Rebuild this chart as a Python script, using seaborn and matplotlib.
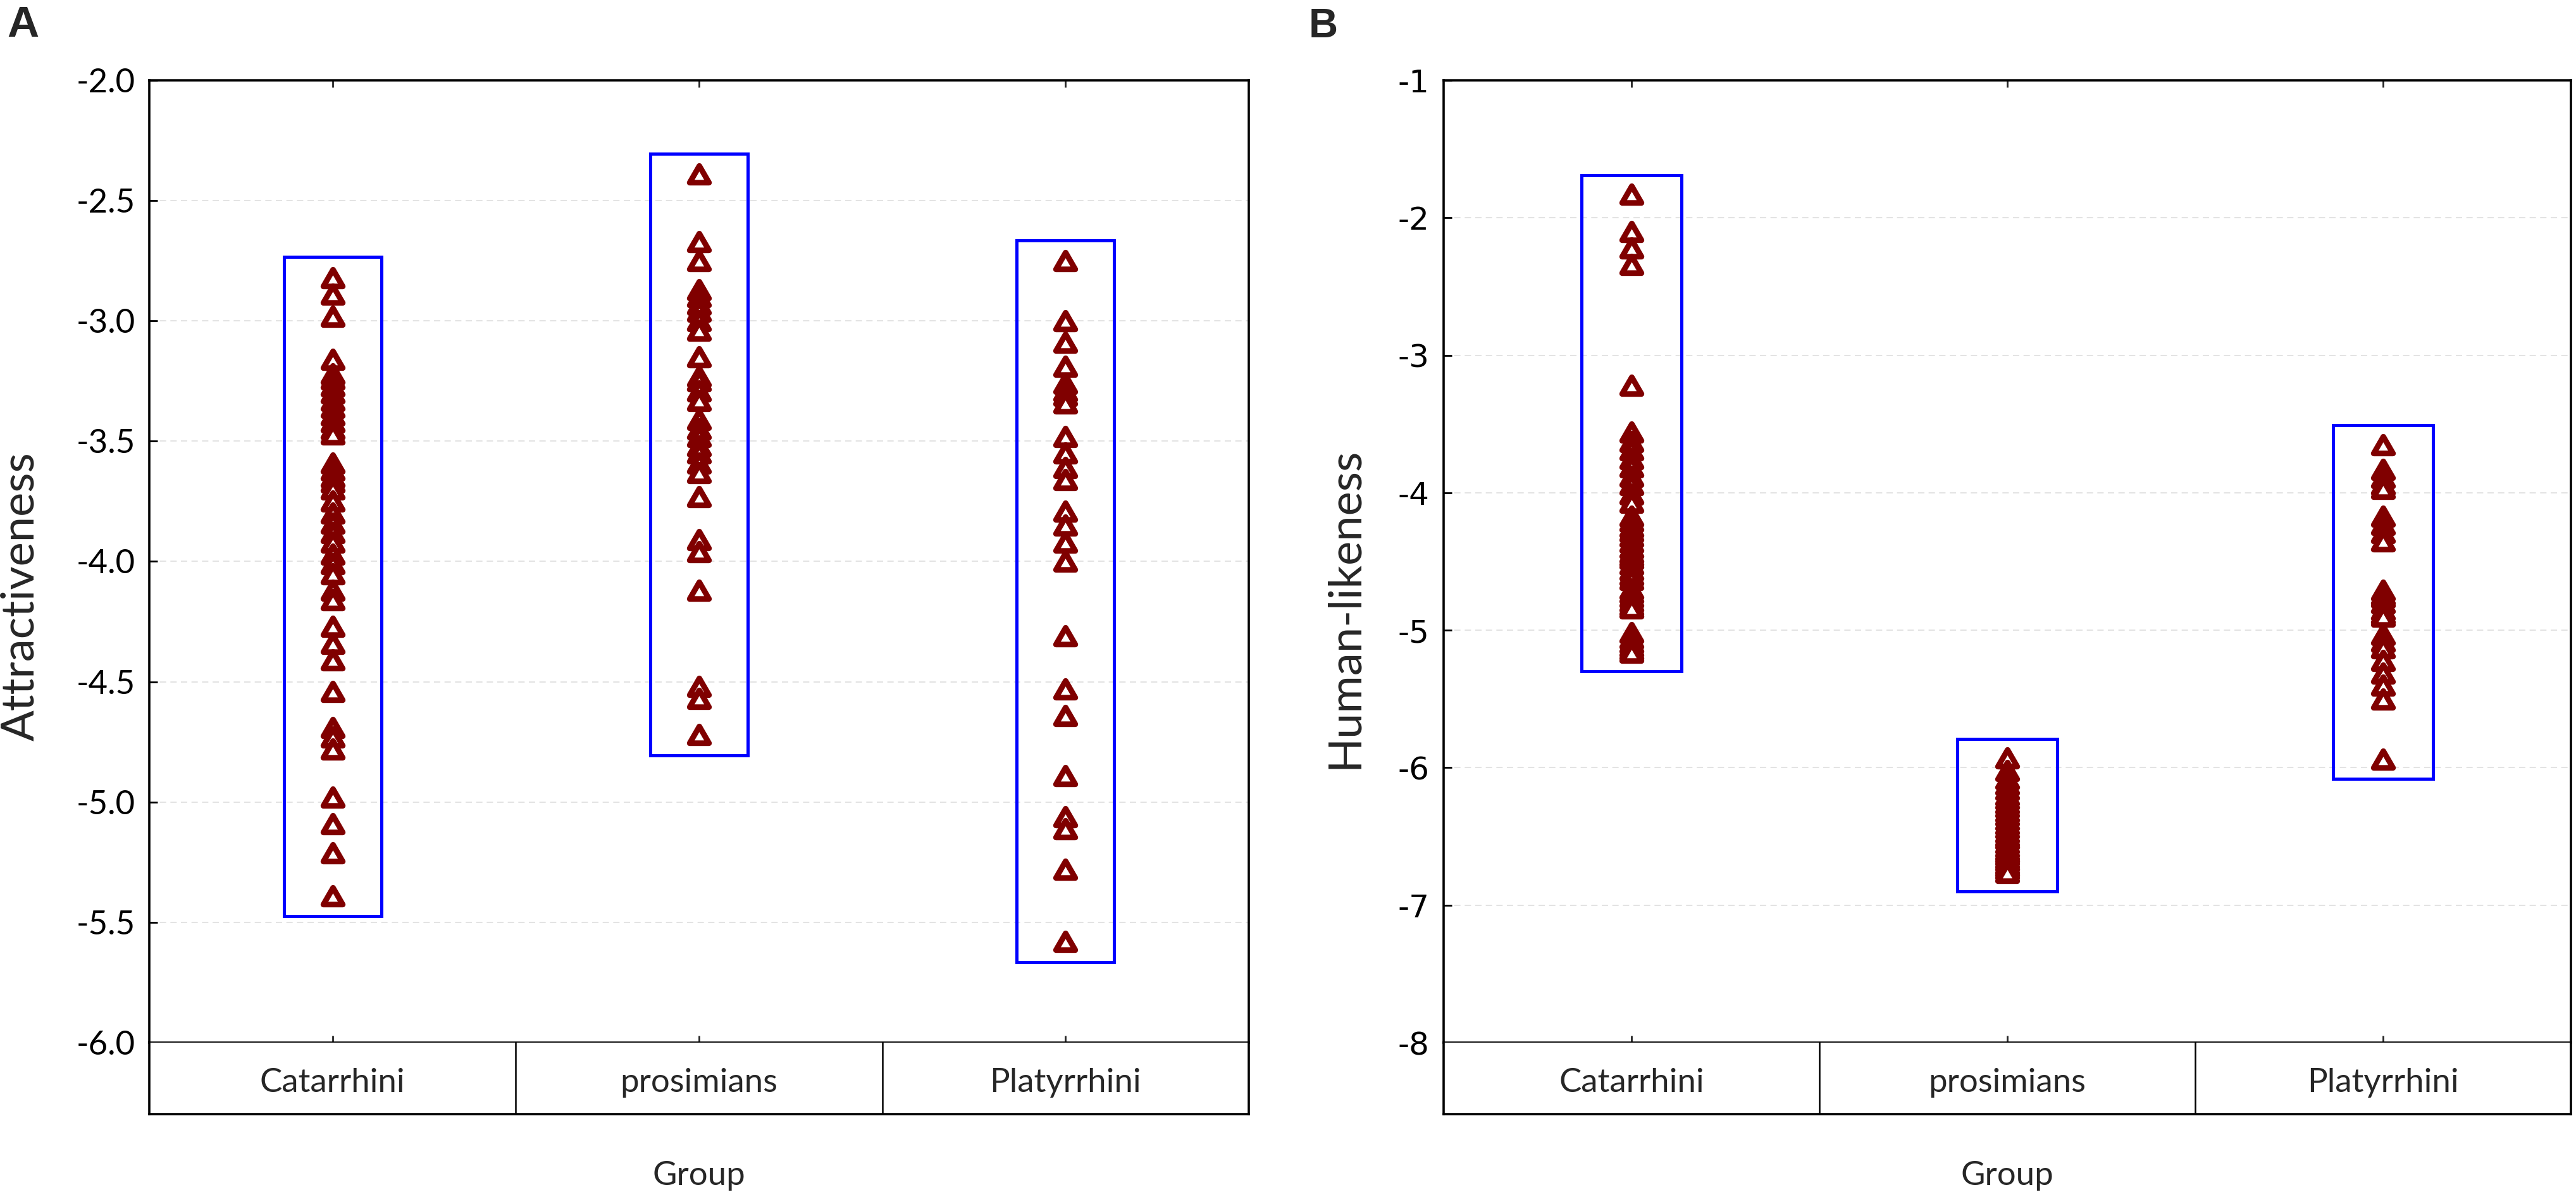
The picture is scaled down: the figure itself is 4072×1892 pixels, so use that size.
import numpy as np
import pandas as pd
import matplotlib.pyplot as plt
from matplotlib.patches import Rectangle
from matplotlib.path import Path
import seaborn as sns

groups = ["Catarrhini", "prosimians", "Platyrrhini"]

# panel A - attractiveness scores per stimulus
attr_catarrhini = [-2.82, -2.89, -2.98, -3.16, -3.22, -3.24, -3.27, -3.30, -3.33, -3.36,
                   -3.39, -3.42, -3.45, -3.47, -3.59, -3.62, -3.65, -3.67, -3.70, -3.75,
                   -3.80, -3.84, -3.88, -3.92, -3.97, -4.01, -4.05, -4.12, -4.16, -4.27,
                   -4.34, -4.41, -4.54, -4.69, -4.73, -4.78, -4.98, -5.09, -5.21, -5.39]
attr_prosimians = [-2.39, -2.67, -2.75, -2.87, -2.90, -2.93, -2.96, -3.00, -3.04, -3.15,
                   -3.23, -3.25, -3.29, -3.33, -3.41, -3.45, -3.48, -3.52, -3.55, -3.59,
                   -3.63, -3.73, -3.91, -3.96, -4.12, -4.52, -4.57, -4.72]
attr_platyrrhini = [-2.75, -3.00, -3.09, -3.19, -3.26, -3.29, -3.31, -3.34, -3.48, -3.55,
                    -3.61, -3.66, -3.79, -3.85, -3.92, -4.00, -4.31, -4.53, -4.64, -4.89,
                    -5.06, -5.11, -5.28, -5.58]

# panel B - human-likeness scores per stimulus
human_catarrhini = [-1.83, -2.10, -2.22, -2.34, -3.22, -3.56, -3.63, -3.69, -3.75, -3.81,
                    -3.88, -3.94, -4.01, -4.07, -4.17, -4.21, -4.25, -4.28, -4.32, -4.36,
                    -4.40, -4.44, -4.46, -4.48, -4.52, -4.56, -4.60, -4.63, -4.70, -4.73,
                    -4.76, -4.79, -4.82, -4.84, -5.02, -5.06, -5.09, -5.12, -5.14, -5.16]
human_prosimians = [-5.93, -6.02, -6.08, -6.12, -6.16, -6.20, -6.23, -6.26, -6.29, -6.32,
                    -6.35, -6.38, -6.41, -6.44, -6.47, -6.50, -6.52, -6.55, -6.58, -6.60,
                    -6.62, -6.64, -6.66, -6.68, -6.70, -6.72, -6.74, -6.76]
human_platyrrhini = [-3.65, -3.83, -3.89, -3.94, -3.97, -4.17, -4.23, -4.29, -4.35, -4.71,
                     -4.74, -4.76, -4.80, -4.85, -4.88, -4.90, -5.03, -5.08, -5.13, -5.22,
                     -5.31, -5.40, -5.50, -5.94]

attr_ticks = [-6.0, -5.5, -5.0, -4.5, -4.0, -3.5, -3.0, -2.5, -2.0]
human_ticks = [-8, -7, -6, -5, -4, -3, -2, -1]


def long_table(a, b, c):
    return pd.DataFrame({
        "Group": [groups[0]] * len(a) + [groups[1]] * len(b) + [groups[2]] * len(c),
        "value": a + b + c,
    })


df_attr = long_table(attr_catarrhini, attr_prosimians, attr_platyrrhini)
df_human = long_table(human_catarrhini, human_prosimians, human_platyrrhini)

sns.set_style("white")
plt.rcParams["font.family"] = ["Lato", "DejaVu Sans"]
plt.rcParams["axes.unicode_minus"] = False

maroon = "#800000"
# equilateral open triangle, closed path
tri = Path([(0, 0.433), (-0.5, -0.433), (0.5, -0.433), (0, 0.433)], closed=True)
W, H = 4072, 1892


def px(x0, y0, x1, y1):
    return [x0 / W, 1 - y1 / H, (x1 - x0) / W, (y1 - y0) / H]


def panel(fig, x0, x1, df, ylim, ticks, fmt, box_pad, tick_font, tick_size):
    ax = fig.add_axes(px(x0, 127, x1, 1648))
    sns.stripplot(data=df, x="Group", y="value", order=groups, jitter=False,
                  marker=tri, size=11, color="white", edgecolor=maroon,
                  linewidth=3.2, ax=ax, zorder=3)
    # range boxes
    for i, g in enumerate(groups):
        v = df.loc[df["Group"] == g, "value"]
        lo, hi = v.min() - box_pad, v.max() + box_pad
        ax.add_patch(Rectangle((i - 0.133, lo), 0.266, hi - lo, fill=False,
                               edgecolor="#0000ff", lw=1.8, zorder=2))
    ax.set_xlim(-0.5, 2.5)
    ax.set_ylim(*ylim)
    ax.set_yticks(ticks)
    ax.set_yticklabels([fmt.format(t) for t in ticks], family=tick_font,
                       fontsize=tick_size)
    ax.set_xticks(range(len(groups)))
    ax.set_xticklabels([])
    ax.set_xlabel("")
    ax.set_ylabel("")
    ax.tick_params(axis="y", direction="in", length=4.5, width=1.0, pad=8,
                   left=True, colors="black")
    ax.tick_params(axis="x", direction="in", length=4, width=1.0,
                   top=True, bottom=True)
    ax.yaxis.grid(True, color="#dedede", lw=0.6, ls=(0, (6, 4)))
    ax.set_axisbelow(True)
    for s in ax.spines.values():
        s.set_color("black")
        s.set_linewidth(1.3)

    row = fig.add_axes(px(x0, 1648, x1, 1761))
    row.set_xlim(-0.5, 2.5)
    row.set_ylim(0, 1)
    for i, g in enumerate(groups):
        row.text(i, 0.31, g, ha="center", va="baseline", fontsize=19)
    for b in np.arange(len(groups) - 1) + 0.5:
        row.axvline(b, color="black", lw=0.9)
    row.set_xticks([])
    row.set_yticks([])
    row.spines["top"].set_visible(False)
    for k in ["left", "right", "bottom"]:
        row.spines[k].set_color("black")
        row.spines[k].set_linewidth(1.3)
    fig.text((x0 + x1) / 2 / W, 1 - 1873 / H, "Group", ha="center",
             va="baseline", fontsize=19)
    return ax


fig = plt.figure(figsize=(W / 200, H / 200), dpi=200)

panel(fig, 236, 1974, df_attr, (-6.0, -2.0), attr_ticks, "{:.1f}", 0.085,
      "Lato", 19)
panel(fig, 2282, 4064, df_human, (-8, -1), human_ticks, "{:d}", 0.14,
      "DejaVu Sans", 18)

fig.text(33 / W, 1 - 943 / H, "Attractiveness", rotation=90, ha="center",
         va="center", fontsize=26)
fig.text(2125 / W, 1 - 961 / H, "Human-likeness", rotation=90, ha="center",
         va="center", fontsize=26)

fig.text(11 / W, 1 - 8 / H, "A", fontsize=25, fontweight="bold",
         family="Liberation Sans", va="top", ha="left")
fig.text(2069 / W, 1 - 12 / H, "B", fontsize=23, fontweight="bold",
         family="Liberation Sans", va="top", ha="left")

fig.savefig("out.png", dpi=200, facecolor="white")
